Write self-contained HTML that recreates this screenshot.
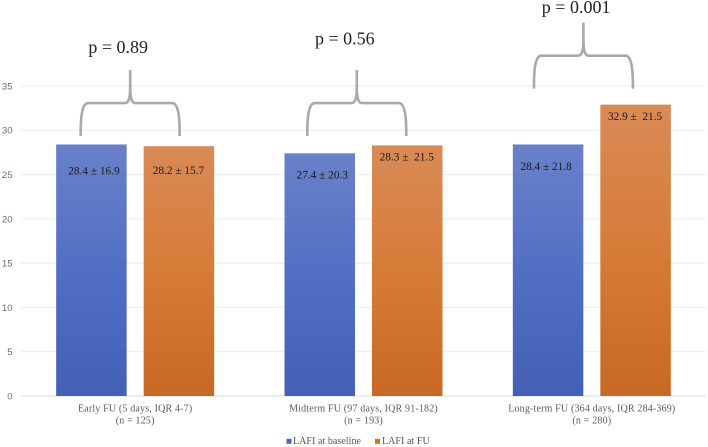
<!DOCTYPE html>
<html lang="en">
<head>
<meta charset="utf-8">
<title>LAFI at baseline and follow-up</title>
<style>
  html, body { margin: 0; padding: 0; background: #fff; }
  body { width: 708px; height: 447px; overflow: hidden; }
  svg { display: block; filter: blur(0.3px); }
  text { white-space: pre; }
  .serif { font-family: "Liberation Serif", serif; }
  .sans { font-family: "Liberation Sans", sans-serif; }
</style>
</head>
<body>
<svg id="chart" xmlns="http://www.w3.org/2000/svg" width="708" height="447" viewBox="0 0 708 447">
  <defs>
    <linearGradient id="blue-fill" x1="0" y1="0" x2="0" y2="1">
      <stop offset="0" stop-color="#6a81c9"/>
      <stop offset="0.55" stop-color="#4f6dc2"/>
      <stop offset="1" stop-color="#4360b5"/>
    </linearGradient>
    <linearGradient id="orange-fill" x1="0" y1="0" x2="0" y2="1">
      <stop offset="0" stop-color="#da8a56"/>
      <stop offset="0.55" stop-color="#d57a35"/>
      <stop offset="1" stop-color="#c86825"/>
    </linearGradient>
  </defs>
  <g id="grid"></g>
  <g id="ticks"></g>
  <g id="bars"></g>
  <g id="values"></g>
  <g id="braces"></g>
  <g id="categories"></g>
  <g>
    <g>
      <rect x="286.5" y="438.8" width="5" height="5" fill="#4a67bb"/>
      <text class="serif" x="293" y="444" font-size="10" letter-spacing="0.05" fill="#555">LAFI at baseline</text>
    </g>
    <g>
      <rect x="375" y="438.8" width="5" height="5" fill="#d0712c"/>
      <text class="serif" x="382" y="444" font-size="10" letter-spacing="0.05" fill="#555">LAFI at FU</text>
    </g>
  </g>
</svg>
<script>
const categories = [
  ["Early FU (5 days, IQR 4-7)", "(n = 125)"],
  ["Midterm FU (97 days, IQR 91-182)", "(n = 193)"],
  ["Long-term FU (364 days, IQR 284-369)", "(n = 280)"]
];
const baselineValues = [28.4, 27.4, 28.4];
const followUpValues = [28.2, 28.3, 32.9];
const baselineLabels = ["28.4 ± 16.9", "27.4 ± 20.3", "28.4 ± 21.8"];
const followUpLabels = ["28.2 ± 15.7", "28.3 ±  21.5", "32.9 ±  21.5"];
const pValueLabels = ["p = 0.89", "p = 0.56", "p = 0.001"];
const braceBaseValues = [29.35, 29.35, 34.7];
const yTicks = [0, 5, 10, 15, 20, 25, 30, 35];

const plotLeft = 21, plotRight = 706, plotBottom = 396, pxPerUnit = 8.857;
const bandWidth = (plotRight - plotLeft) / categories.length;
const barWidth = 70.5, barGap = 17;

function yScale(v) { return plotBottom - v * pxPerUnit; }
function bandCenter(i) { return plotLeft + bandWidth * (i + 0.5); }
function barX(i, s) { return bandCenter(i) - barWidth - barGap / 2 + s * (barWidth + barGap); }

const NS = "http://www.w3.org/2000/svg";
function make(tag, parentId, attrs, text) {
  const node = document.createElementNS(NS, tag);
  for (const k in attrs) node.setAttribute(k, attrs[k]);
  if (text !== undefined) node.textContent = text;
  document.getElementById(parentId).appendChild(node);
  return node;
}

yTicks.forEach(function (t) {
  const y = yScale(t);
  const line = make("line", "grid", { x1: plotLeft, x2: plotRight, y1: y, y2: y,
    stroke: t === 0 ? "#d9dde6" : "#e9ebf0", "stroke-width": 1 });
  
  
  const label = make("text", "ticks", { x: 12.5, y: y + 3.4, "text-anchor": "end",
    class: "sans", "font-size": 9.5, fill: "#626d85" }, String(t));
  
  
});

const baselineNudgeX = [2.5, 2.5, -2];
const followUpNudgeX = [-0.5, -0.5, -0.5];
const baselineDrop = [30, 25, 25.5];
const followUpDrop = [28, 15.3, 15.5];
const pNudgeX = [-12, -12, -7.3];
const pRise = [17, 25.5, 9.5];

categories.forEach(function (cat, i) {
  const bx = barX(i, 0), fx = barX(i, 1);
  const by = yScale(baselineValues[i]), fy = yScale(followUpValues[i]);

  const blueBar = make("rect", "bars", { x: bx, y: by, width: barWidth, height: plotBottom - by, fill: "url(#blue-fill)" });
  
  
  const orangeBar = make("rect", "bars", { x: fx, y: fy, width: barWidth, height: plotBottom - fy, fill: "url(#orange-fill)" });
  
  

  const blueText = make("text", "values", { x: bx + barWidth / 2 + baselineNudgeX[i], y: by + baselineDrop[i],
    "text-anchor": "middle", class: "serif", "font-size": 11.3, fill: "#1a1a1a" }, baselineLabels[i]);
  
  
  const orangeText = make("text", "values", { x: fx + barWidth / 2 + followUpNudgeX[i], y: fy + followUpDrop[i],
    "text-anchor": "middle", class: "serif", "font-size": 11.3, fill: "#1a1a1a" }, followUpLabels[i]);
  
  

  const cx = bandCenter(i);
  const line1 = make("text", "categories", { x: cx, y: 411.5, "text-anchor": "middle", class: "serif",
    "font-size": 10, "letter-spacing": 0.17, fill: "#5a5a5a" }, cat[0]);
  
  
  const line2 = make("text", "categories", { x: cx, y: 423.3, "text-anchor": "middle", class: "serif",
    "font-size": 10, "letter-spacing": 0.17, fill: "#5a5a5a" }, cat[1]);
  
  

  const base = yScale(braceBaseValues[i]);
  const mid = cx - 5 + (i === 0 ? 0 : i === 1 ? -1.7 : -3.4);
  const left = mid - 49.5, right = mid + 49.5;
  const shoulder = base - 33, tip = base - 66;
  const d = "M" + left + " " + base +
    " C" + left + " " + (base - 12) + " " + left + " " + (shoulder + 1) + " " + (left + 7) + " " + shoulder +
    " L" + (mid - 5) + " " + shoulder +
    " C" + (mid - 1) + " " + shoulder + " " + mid + " " + (shoulder - 8) + " " + mid + " " + (shoulder - 14) +
    " L" + mid + " " + tip +
    " M" + mid + " " + (shoulder - 14) +
    " C" + mid + " " + (shoulder - 8) + " " + (mid + 1) + " " + shoulder + " " + (mid + 5) + " " + shoulder +
    " L" + (right - 7) + " " + shoulder +
    " C" + right + " " + (shoulder + 1) + " " + right + " " + (base - 12) + " " + right + " " + base;
  const brace = make("path", "braces", { d: d, fill: "none", stroke: "#a9a9a9", "stroke-width": 2.6 });
  
  

  const pText = make("text", "braces", { x: mid + pNudgeX[i], y: tip - pRise[i], "text-anchor": "middle", class: "serif",
    "font-size": 18, fill: "#222" }, pValueLabels[i]);
  
  
});
</script>
</body>
</html>
